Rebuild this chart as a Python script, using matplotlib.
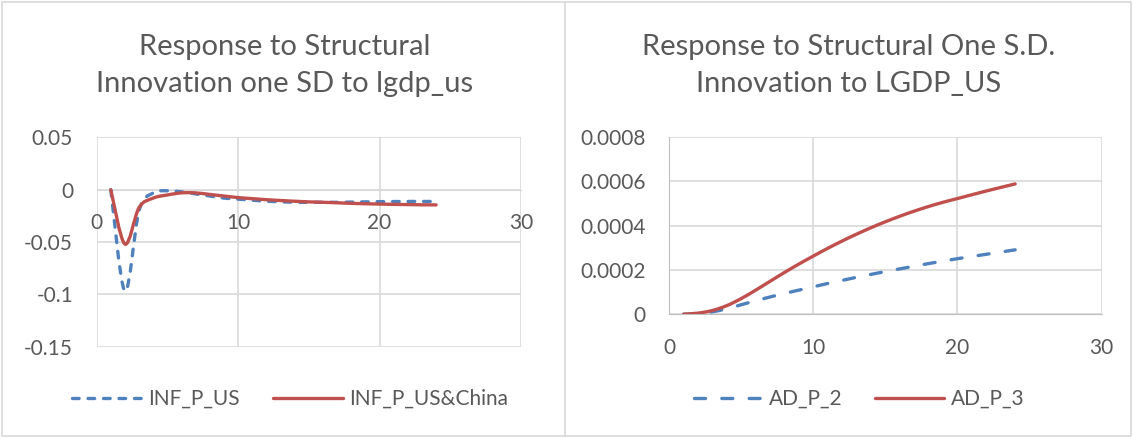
import matplotlib
matplotlib.use("Agg")
import matplotlib.pyplot as plt
from matplotlib.path import Path
from matplotlib.patches import PathPatch, Rectangle
from matplotlib.lines import Line2D
import numpy as np

plt.rcParams['font.family'] = ['Lato', 'DejaVu Sans']

# horizons 1..24
okresy = list(range(1, 25))

inf_p_us = [0, -0.097, -0.02, -0.003, -0.001, -0.002, -0.004, -0.006, -0.008, -0.009,
            -0.010, -0.011, -0.0115, -0.012, -0.012, -0.012, -0.012, -0.0118,
            -0.0116, -0.0114, -0.0113, -0.0112, -0.0112, -0.0112]
inf_p_us_china = [0, -0.052, -0.017, -0.008, -0.005, -0.003, -0.003, -0.0045, -0.006,
                  -0.0075, -0.0085, -0.0095, -0.0103, -0.011, -0.0116, -0.012, -0.0125,
                  -0.013, -0.0134, -0.0137, -0.014, -0.0142, -0.0144, -0.0145]

ad_p_2 = [0, 0.000003, 0.000011, 0.000025, 0.000043, 0.000061, 0.000078, 0.000094,
          0.000109, 0.000124, 0.000139, 0.000153, 0.000167, 0.00018, 0.000193,
          0.000205, 0.000217, 0.000229, 0.00024, 0.000251, 0.000261, 0.000271,
          0.000281, 0.000291]
ad_p_3 = [0, 0.000005, 0.000017, 0.000039, 0.000071, 0.000109, 0.000149, 0.000189,
          0.000227, 0.000263, 0.000298, 0.000331, 0.000362, 0.000391, 0.000418,
          0.000443, 0.000466, 0.000487, 0.000506, 0.000523, 0.00054, 0.000557,
          0.000573, 0.000589]

NIEBIESKI = '#4f81bd'
CZERWONY = '#c0504d'
SZARY = '#595959'
SIATKA = '#d9d9d9'
GRUBOSC = 2.4
KROPKI = (0, (2.0, 2.65))
KRESKI = (0, (3.3, 4.9))


def gladka_sciezka(x, y):
    # Excel-style smoothed line: cubic Bezier segments through the points
    pts = np.column_stack([x, y]).astype(float)
    n = len(pts)
    verts = [pts[0]]
    codes = [Path.MOVETO]
    for i in range(n - 1):
        p0 = pts[i - 1] if i > 0 else pts[i]
        p1 = pts[i]
        p2 = pts[i + 1]
        p3 = pts[i + 2] if i + 2 < n else pts[i + 1]
        c1 = p1 + (p2 - p0) / 6.0
        c2 = p2 - (p3 - p1) / 6.0
        verts += [c1, c2, p2]
        codes += [Path.CURVE4] * 3
    return Path(verts, codes)


def rysuj(ax, x, y, kolor, styl):
    patch = PathPatch(gladka_sciezka(x, y), facecolor='none', edgecolor=kolor,
                      lw=GRUBOSC, linestyle=styl, capstyle='round', joinstyle='round',
                      transform=ax.transData, zorder=3)
    ax.add_patch(patch)


def wyglad(ax):
    ax.grid(True, color=SIATKA, lw=1.2)
    ax.set_axisbelow(True)
    for s in ax.spines.values():
        s.set_visible(False)
    ax.tick_params(length=0, labelsize=15, colors=SZARY)
    ax.tick_params(axis='y', pad=17)
    ax.tick_params(axis='x', pad=17)


def uchwyty():
    return [Line2D([], [], color=NIEBIESKI, lw=GRUBOSC, dash_capstyle='round'),
            Line2D([], [], color=CZERWONY, lw=GRUBOSC, solid_capstyle='round')]


fig = plt.figure(figsize=(11.33, 4.38), dpi=100)
fig.patches.append(Rectangle((0.002, 0.004), 0.996, 0.992, transform=fig.transFigure,
                             fill=False, edgecolor=SIATKA, lw=1.2))
fig.add_artist(Line2D([0.4985, 0.4985], [0.004, 0.996], color=SIATKA, lw=1.2))

# left chart
ax1 = fig.add_axes([0.0853, 0.2089, 0.3745, 0.4772])
wyglad(ax1)
ax1.set_xlim(0, 30)
ax1.set_ylim(-0.15, 0.05)
ax1.set_xticks([0, 10, 20, 30])
ax1.set_yticks([-0.15, -0.1, -0.05, 0, 0.05])
ax1.set_yticklabels(['-0.15', '-0.1', '-0.05', '0', '0.05'])
ax1.spines['bottom'].set_visible(True)
ax1.spines['bottom'].set_position(('data', 0))
ax1.spines['bottom'].set_color(SIATKA)
rysuj(ax1, okresy, inf_p_us, NIEBIESKI, KROPKI)
rysuj(ax1, okresy, inf_p_us_china, CZERWONY, '-')
fig.text(0.2512, 0.8744, 'Response to Structural', ha='center', va='baseline',
         fontsize=21, color=SZARY)
fig.text(0.2512, 0.7906, 'Innovation one SD to lgdp_us', ha='center', va='baseline',
         fontsize=21, color=SZARY)
h1 = uchwyty()
h1[0].set_linestyle(KROPKI)
fig.legend(h1, ['INF_P_US', 'INF_P_US&China'], loc='center', bbox_to_anchor=(0.2564, 0.089),
           ncol=2, frameon=False, fontsize=15, labelcolor=SZARY, handlelength=3.35,
           handletextpad=0.3, columnspacing=1.6)

# right chart
ax2 = fig.add_axes([0.5907, 0.2826, 0.3816, 0.4041])
wyglad(ax2)
ax2.set_xlim(0, 30)
ax2.set_ylim(0, 0.0008)
ax2.set_xticks([0, 10, 20, 30])
ax2.set_yticks([0, 0.0002, 0.0004, 0.0006, 0.0008])
ax2.set_yticklabels(['0', '0.0002', '0.0004', '0.0006', '0.0008'])
for s in ['left', 'bottom']:
    ax2.spines[s].set_visible(True)
    ax2.spines[s].set_color('#bfbfbf')
rysuj(ax2, okresy, ad_p_2, NIEBIESKI, KRESKI)
rysuj(ax2, okresy, ad_p_3, CZERWONY, '-')
fig.text(0.7493, 0.8744, 'Response to Structural One S.D.', ha='center', va='baseline',
         fontsize=21, color=SZARY)
fig.text(0.7493, 0.7906, 'Innovation to LGDP_US', ha='center', va='baseline',
         fontsize=21, color=SZARY)
h2 = uchwyty()
h2[0].set_linestyle(KRESKI)
fig.legend(h2, ['AD_P_2', 'AD_P_3'], loc='center', bbox_to_anchor=(0.758, 0.089),
           ncol=2, frameon=False, fontsize=15, labelcolor=SZARY, handlelength=3.3,
           handletextpad=0.3, columnspacing=1.6)

fig.savefig('out.png', dpi=100)
